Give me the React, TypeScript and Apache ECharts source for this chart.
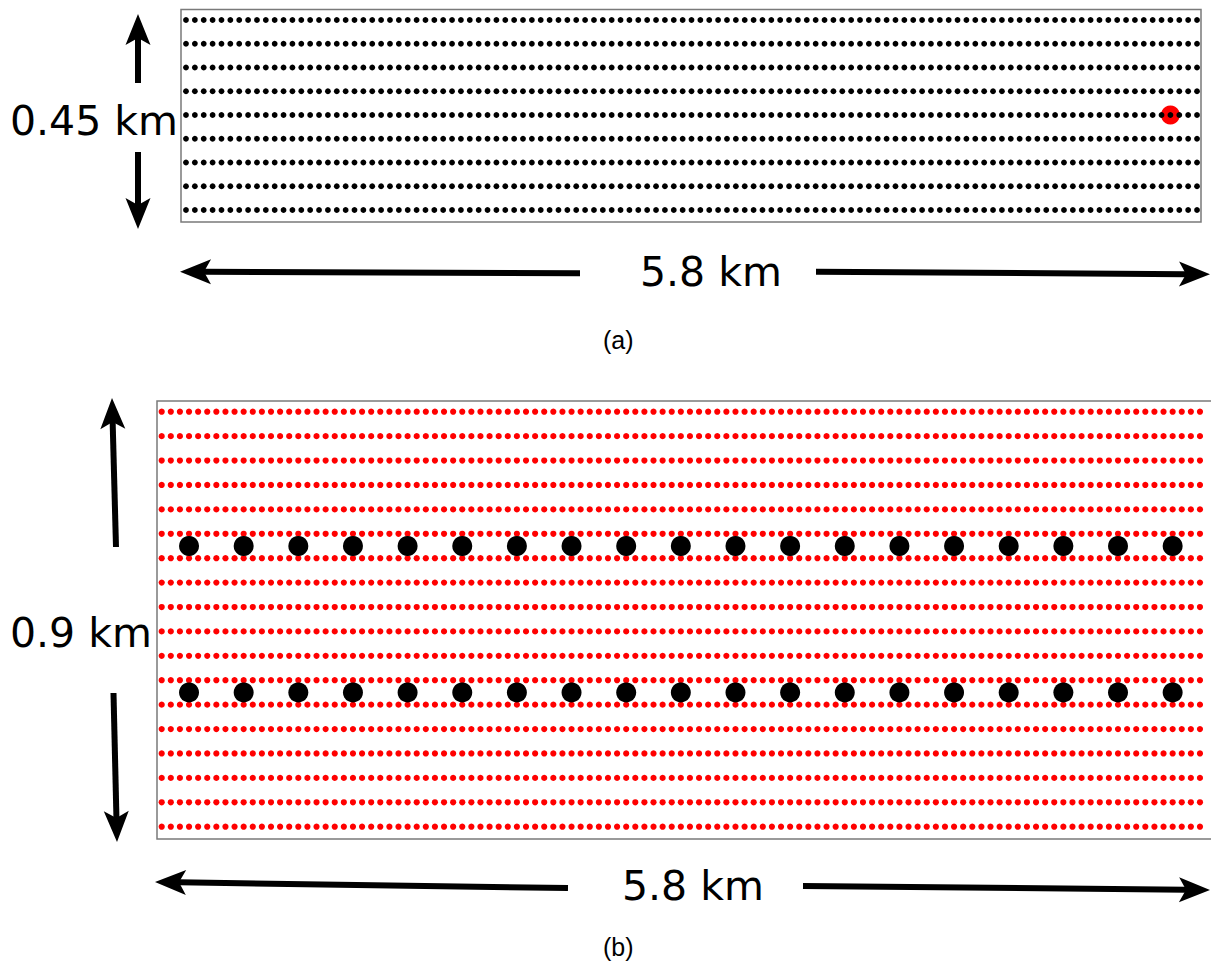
import React, { useEffect, useRef } from "react";
import * as echarts from "echarts";

// Panel (a): 9 rows of sensors, 115 columns, one highlighted sensor
const gridColumnCount = 115;
const panelARows = [0, 1, 2, 3, 4, 5, 6, 7, 8];
const panelAHighlight = [[111, 4]];

// Panel (b): 18 rows of red points, two rows of large black sensors between them
const panelBRows = [0, 1, 2, 3, 4, 5, 6, 7, 8, 9, 10, 11, 12, 13, 14, 15, 16, 17];
const panelBSensorColumns = [3, 9, 15, 21, 27, 33, 39, 45, 51, 57, 63, 69, 75, 81, 87, 93, 99, 105, 111];
const panelBSensorRows = [5.5, 11.5];

const labelA = { height: "0.45 km", width: "5.8 km", caption: "(a)" };
const labelB = { height: "0.9 km", width: "5.8 km", caption: "(b)" };

function lattice(rows: number[], cols: number): number[][] {
  const out: number[][] = [];
  for (const r of rows) for (let c = 0; c < cols; c++) out.push([c, r]);
  return out;
}

function arrow(tail: number[], tip: number[]) {
  const dx = tip[0] - tail[0];
  const dy = tip[1] - tail[1];
  const len = Math.sqrt(dx * dx + dy * dy);
  const ux = dx / len, uy = dy / len;
  const nx = -uy, ny = ux;
  const L = 31, N = 24, W = 12.5;
  const c1 = [tip[0] - ux * L + nx * W, tip[1] - uy * L + ny * W];
  const c2 = [tip[0] - ux * L - nx * W, tip[1] - uy * L - ny * W];
  const notch = [tip[0] - ux * N, tip[1] - uy * N];
  return [
    {
      type: "line",
      shape: { x1: tail[0], y1: tail[1], x2: notch[0], y2: notch[1] },
      style: { stroke: "#000", lineWidth: 6 },
      silent: true,
    },
    {
      type: "polygon",
      shape: { points: [tip, c1, notch, c2] },
      style: { fill: "#000" },
      silent: true,
    },
  ];
}

export default function App() {
  const ref = useRef<HTMLDivElement>(null);
  useEffect(() => {
    document.body.style.margin = "0";
    const chart = echarts.init(ref.current!, null, { renderer: "svg" });
    const bigFont = { fontFamily: "DejaVu Sans", fontSize: 41, fill: "#000" };
    const capFont = { fontFamily: "Liberation Sans", fontSize: 25, fill: "#000" };
    const hiddenAxis = {
      show: false,
      splitLine: { show: false },
    };
    const option: any = {
      animation: false,
      backgroundColor: "#fff",
      grid: [
        {
          left: 181, top: 9.5, width: 1020, height: 212.5, outerBoundsMode: "none",
          show: true, borderColor: "#7a7a7a", borderWidth: 1.5, backgroundColor: "transparent",
        },
        {
          left: 157, top: 401, width: 1060, height: 438, outerBoundsMode: "none",
          show: true, borderColor: "#7a7a7a", borderWidth: 1.5, backgroundColor: "transparent",
        },
      ],
      xAxis: [
        { ...hiddenAxis, type: "value", gridIndex: 0, min: -0.564, max: 114.45 },
        { ...hiddenAxis, type: "value", gridIndex: 1, min: -0.516, max: 115.87 },
      ],
      yAxis: [
        { ...hiddenAxis, type: "value", gridIndex: 0, min: -0.505, max: 8.442 },
        { ...hiddenAxis, type: "value", gridIndex: 1, min: -0.504, max: 17.44 },
      ],
      series: [
        {
          type: "scatter", xAxisIndex: 0, yAxisIndex: 0, data: panelAHighlight,
          symbol: "circle", symbolSize: 19, itemStyle: { color: "#ff0000", opacity: 1 }, silent: true,
        },
        {
          type: "scatter", xAxisIndex: 0, yAxisIndex: 0, data: lattice(panelARows, gridColumnCount),
          symbol: "circle", symbolSize: 5.8, itemStyle: { color: "#000", opacity: 1 }, silent: true,
          large: false, progressive: 0,
        },
        {
          type: "scatter", xAxisIndex: 1, yAxisIndex: 1, data: lattice(panelBRows, gridColumnCount),
          symbol: "circle", symbolSize: 6.2, itemStyle: { color: "#ff0000", opacity: 1 }, silent: true,
          large: false, progressive: 0,
        },
        {
          type: "scatter", xAxisIndex: 1, yAxisIndex: 1,
          data: panelBSensorRows.flatMap((r) => panelBSensorColumns.map((c) => [c, r])),
          symbol: "circle", symbolSize: 20, itemStyle: { color: "#000", opacity: 1 }, silent: true,
        },
      ],
      graphic: [
        ...arrow([138, 83], [138, 14]),
        ...arrow([138, 152], [138, 229]),
        ...arrow([580, 273.3], [180, 271.7]),
        ...arrow([816, 271.7], [1210, 274.3]),
        ...arrow([116, 547], [112, 398]),
        ...arrow([113.5, 693], [117, 842]),
        ...arrow([568, 888], [155, 882]),
        ...arrow([803, 886], [1210, 890]),
        { type: "text", left: 10, top: 100, style: { ...bigFont, text: labelA.height } },
        { type: "text", left: 640, top: 251, style: { ...bigFont, text: labelA.width } },
        { type: "text", left: 603, top: 327, style: { ...capFont, text: labelA.caption } },
        { type: "text", left: 10, top: 612, style: { ...bigFont, text: labelB.height } },
        { type: "text", left: 622, top: 865, style: { ...bigFont, text: labelB.width } },
        { type: "text", left: 603, top: 934, style: { ...capFont, text: labelB.caption } },
      ],
    };
    chart.setOption(option);
    return () => chart.dispose();
  }, []);
  return <div ref={ref} style={{ width: 1211, height: 965 }} />;
}
